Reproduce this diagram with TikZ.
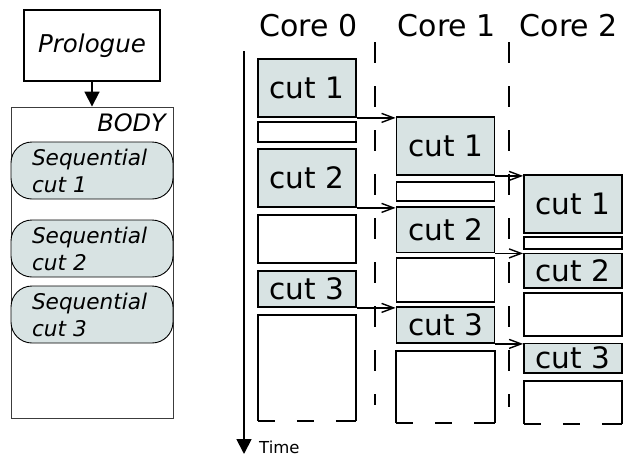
\documentclass[tikz,border=0pt]{standalone}
\usepackage{fontspec}
\setmainfont{DejaVu Sans}
\usetikzlibrary{arrows.meta}
\definecolor{cutfill}{RGB}{216,227,227}
\definecolor{bodyline}{RGB}{60,60,60}
\tikzset{
  boxline/.style={line width=1.8pt, draw=black},
  cutbox/.style={boxline, fill=cutfill, inner sep=0pt, font=\fontsize{29.5}{34}\selectfont},
  idlebox/.style={boxline, fill=white, inner sep=0pt},
  openbox/.style={draw=none, inner sep=0pt},
  seqbox/.style={draw=black, line width=0.9pt, fill=cutfill, rounded corners=21pt,
    minimum width=162pt, minimum height=57pt, inner xsep=21pt, inner ysep=0pt,
    text width=120pt, align=left, font=\fontsize{21.6}{27}\selectfont\itshape},
  corelabel/.style={anchor=base, font=\fontsize{30}{36}\selectfont},
  divider/.style={line width=1.6pt, dash pattern=on 21pt off 23pt},
  bottomdash/.style={boxline, dash pattern=on 17pt off 22pt on 17pt off 22pt on 40pt},
  handoff/.style={line width=1.4pt, -{Straight Barb[length=12pt,width=9pt,line width=1.4pt]}},
  flow/.style={line width=1.8pt, -{Triangle[length=15pt,width=15pt]}}
}
% style, name, x-centre, y-top, y-bottom, text
\newcommand\cutblk[6]{%
  \node[#1, minimum width=98pt, minimum height={(#5-#4)*1pt}] (#2) at (#3,{(#4+#5)/2}) {#6};}
\begin{document}
\begin{tikzpicture}[x=1pt,y=-1pt]
\useasboundingbox (0,0) rectangle (623,458);

% ---- left: program structure ----
\node[boxline, minimum width=136pt, minimum height=71pt, inner sep=0pt,
      font=\fontsize{24.5}{30}\selectfont\itshape] (pro) at (92,45.5) {Prologue};
\node[draw=bodyline, line width=0.9pt, minimum width=162pt, minimum height=311pt,
      inner sep=0pt] (body) at (92,262.5) {};
\node[anchor=base east, inner sep=0pt, font=\fontsize{24}{30}\selectfont\itshape]
      (bodylbl) at (166,131) {BODY};
\draw[flow] (pro.south) -- (body.north);

\node[seqbox] (s1) at (92,170.5) {Sequential\\cut 1};
\node[seqbox] (s2) at (92,248.5) {Sequential\\cut 2};
\node[seqbox] (s3) at (92,314.5) {Sequential\\cut 3};

% ---- right: cores and time ----
\node[corelabel] (h0) at (308.5,36) {Core 0};
\node[corelabel] (h1) at (447,36) {Core 1};
\node[corelabel] (h2) at (569,36) {Core 2};

\coordinate (t0) at (244,51);
\coordinate (t1) at (244,454);
\draw[flow] (t0) -- (t1);
\node[anchor=base west, inner sep=0pt, font=\fontsize{16.5}{20}\selectfont] (tlbl) at (259,453) {Time};

\coordinate (d0a) at (375,42);  \coordinate (d0b) at (375,405);
\coordinate (d1a) at (509,42);  \coordinate (d1b) at (509,407);
\draw[divider] (d0a) -- (d0b);
\draw[divider] (d1a) -- (d1b);

% Core 0
\cutblk{cutbox}{c0a}{307}{59}{117}{cut 1}
\cutblk{idlebox}{c0b}{307}{122}{142}{}
\cutblk{cutbox}{c0c}{307}{149}{207}{cut 2}
\cutblk{idlebox}{c0d}{307}{215}{263}{}
\cutblk{cutbox}{c0e}{307}{271}{307}{cut 3}
\cutblk{openbox}{c0f}{307}{315}{421}{}

% Core 1
\cutblk{cutbox}{c1a}{445.5}{117}{175}{cut 1}
\cutblk{idlebox}{c1b}{445.5}{182}{201}{}
\cutblk{cutbox}{c1c}{445.5}{207}{252.5}{cut 2}
\cutblk{idlebox}{c1d}{445.5}{258}{302}{}
\cutblk{cutbox}{c1e}{445.5}{307}{343}{cut 3}
\cutblk{openbox}{c1f}{445.5}{351}{423}{}

% Core 2
\cutblk{cutbox}{c2a}{573}{175}{233}{cut 1}
\cutblk{idlebox}{c2b}{573}{237}{249}{}
\cutblk{cutbox}{c2c}{573}{253.5}{288}{cut 2}
\cutblk{idlebox}{c2d}{573}{293}{336}{}
\cutblk{cutbox}{c2e}{573}{343.5}{373}{cut 3}
\cutblk{openbox}{c2f}{573}{381}{424}{}

% open-ended last slots: solid sides, dashed bottom
\foreach \n in {c0f,c1f,c2f}{
  \draw[boxline] (\n.south west) -- (\n.north west) -- (\n.north east) -- (\n.south east);
  \draw[bottomdash] (\n.south west) -- (\n.south east);
}

% hand-offs between cores
\draw[handoff] (c0a.south east) -- (c0a.south east -| c1a.west);
\draw[handoff] (c0c.south east) -- (c0c.south east -| c1c.west);
\draw[handoff] (c0e.south east) -- (c0e.south east -| c1e.west);
\draw[handoff] (c1a.south east) -- (c1a.south east -| c2a.west);
\draw[handoff] (c1c.south east) -- (c1c.south east -| c2c.west);
\draw[handoff] (c1e.south east) -- (c1e.south east -| c2e.west);
\end{tikzpicture}
\end{document}
